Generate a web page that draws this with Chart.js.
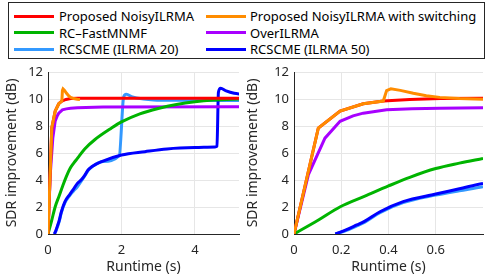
<!DOCTYPE html>
<html>
<head>
<meta charset="utf-8">
<script src="https://cdn.jsdelivr.net/npm/chart.js@4.4.0/dist/chart.umd.min.js"></script>
<style>
  body { margin: 0; background: #fff; }
  #wrap { position: relative; width: 491px; height: 278px; overflow: hidden; font-family: "Noto Sans", sans-serif; }
  canvas { position: absolute; top: 0; }
  #leftChart { left: 0; }
  #rightChart { left: 245px; }
  #legend { position: absolute; left: 8px; top: 2px; width: 477px; height: 57px; border: 1px solid #262626; background: #fff; box-sizing: border-box; }
  .item { position: absolute; font-size: 13px; line-height: 16px; color: #000; white-space: nowrap; }
  .swatch { position: absolute; width: 40px; height: 3px; }
</style>
</head>
<body>
<div id="wrap">
  <canvas id="leftChart" width="246" height="278"></canvas>
  <canvas id="rightChart" width="246" height="278"></canvas>
  <div id="legend"></div>
</div>
<script>
// Series: [runtime (s), SDR improvement (dB)]
const noisyIlrma = [[0, 0], [0.103, 7.85], [0.195, 9.1], [0.293, 9.65], [0.378, 9.85], [0.49, 9.97], [0.62, 10.03], [0.8, 10.06], [1.5, 10.06], [5.3, 10.06]];
const noisyIlrmaSwitch = [[0, 0], [0.103, 7.85], [0.195, 9.1], [0.293, 9.65], [0.378, 9.85], [0.392, 10.62], [0.41, 10.75], [0.45, 10.64], [0.505, 10.42], [0.56, 10.24], [0.617, 10.12], [0.7, 10.03], [0.8, 9.98], [0.87, 9.96]];
const rcFastMnmf = [[0, 0], [0.1, 1.0], [0.196, 2.02], [0.3, 2.8], [0.4, 3.56], [0.49, 4.2], [0.6, 4.85], [0.7, 5.25], [0.8, 5.6], [1.0, 6.3], [1.28, 7.0], [1.73, 7.85], [2.0, 8.3], [2.5, 8.9], [3.0, 9.3], [3.5, 9.6], [4.0, 9.8], [4.5, 9.92], [5.3, 10.0]];
const overIlrma = [[0, 0], [0.061, 4.4], [0.131, 7.1], [0.195, 8.35], [0.25, 8.75], [0.293, 8.95], [0.392, 9.2], [0.5, 9.27], [0.617, 9.32], [0.8, 9.35], [1.5, 9.4], [5.3, 9.43]];
const rcscme20 = [[0.175, 0], [0.22, 0.25], [0.266, 0.6], [0.3, 0.88], [0.364, 1.58], [0.462, 2.32], [0.6, 2.88], [0.7, 3.2], [0.8, 3.5], [0.9, 3.9], [1.0, 4.3], [1.09, 4.7], [1.2, 4.98], [1.46, 5.36], [1.94, 5.8], [2.06, 10.15], [2.13, 10.35], [2.3, 10.15], [2.6, 10.0], [2.88, 9.93], [3.5, 9.9], [5.3, 9.88]];
const rcscme50 = [[0.175, 0], [0.22, 0.3], [0.266, 0.67], [0.3, 0.95], [0.364, 1.65], [0.462, 2.4], [0.6, 2.96], [0.7, 3.35], [0.8, 3.75], [0.9, 4.0], [1.0, 4.35], [1.09, 4.74], [1.2, 5.0], [1.46, 5.36], [2.0, 5.85], [2.64, 6.1], [3.24, 6.3], [4.0, 6.4], [4.55, 6.45], [4.6, 6.5], [4.64, 10.5], [4.7, 10.8], [4.85, 10.6], [5.07, 10.42], [5.3, 10.35]];

const seriesNames = ["Proposed NoisyILRMA", "Proposed NoisyILRMA with switching", "RC\u2013FastMNMF", "OverILRMA", "RCSCME (ILRMA 20)", "RCSCME (ILRMA 50)"];
const seriesData = [noisyIlrma, noisyIlrmaSwitch, rcFastMnmf, overIlrma, rcscme20, rcscme50];
const seriesColors = ["#ff0000", "#ff8c00", "#00b400", "#a800ff", "#3399ff", "#0000ff"];
// drawing order, lower is on top
const seriesOrder = [2, 1, 3, 4, 6, 5];
const smoothSeries = [false, false, true, false, true, true];

const yTicks = [0, 2, 4, 6, 8, 10, 12];
const leftXTicks = [0, 2, 4];
const rightXTicks = [0, 0.2, 0.4, 0.6];

// Legend
var legendBox = document.getElementById("legend");
seriesNames.forEach((name, i) => {
  const col = i % 2, row = Math.floor(i / 2);
  const top = 5 + row * 16.5;
  legendBox.innerHTML += `
    <div class="swatch" style="left:${5 + col * 192}px;top:${top + 6.5}px;background:${seriesColors[i]}"></div>
    <div class="item" style="left:${50 + col * 191}px;top:${top}px">${name}</div>`;
});

function makeChart(id, xMax, xTicks, pad, yWidth, yTitlePad) {
  const ctx = document.getElementById(id).getContext("2d");
  return new Chart(ctx, {
    type: "line",
    data: {
      datasets: seriesData.map((pts, i) => ({
        label: seriesNames[i],
        data: pts.map(p => ({ x: p[0], y: p[1] })),
        borderColor: seriesColors[i],
        borderWidth: 3,
        pointRadius: 0,
        fill: false,
        order: seriesOrder[i],
        cubicInterpolationMode: smoothSeries[i] ? "monotone" : "default",
        tension: 0
      }))
    },
    options: {
      responsive: false,
      animation: false,
      devicePixelRatio: 1,
      layout: { padding: pad },
      plugins: { legend: { display: false }, tooltip: { enabled: false } },
      scales: {
        x: {
          type: "linear",
          min: 0,
          max: xMax,
          afterBuildTicks: axis => { axis.ticks = xTicks.map(v => ({ value: v })); },
          afterFit: axis => { axis.height = 44; },
          grid: { color: "#e6e6e6", drawTicks: false },
          border: { color: "#262626", width: 1 },
          ticks: { color: "#262626", padding: 8, maxRotation: 0, font: { family: "Noto Sans", size: 13 }, callback: v => String(v) },
          title: { display: true, text: "Runtime (s)", color: "#262626", padding: { top: 0, bottom: 3 }, font: { family: "Noto Sans", size: 14 } }
        },
        y: {
          min: 0,
          max: 12,
          afterBuildTicks: axis => { axis.ticks = yTicks.map(v => ({ value: v })); },
          afterFit: axis => { axis.width = yWidth; },
          grid: { color: "#e6e6e6", drawTicks: false },
          border: { color: "#262626", width: 1 },
          ticks: { color: "#262626", padding: 5, font: { family: "Noto Sans", size: 13 } },
          title: { display: true, text: "SDR improvement (dB)", color: "#262626", padding: { top: yTitlePad, bottom: 0 }, font: { family: "Noto Sans", size: 14 } }
        }
      }
    }
  });
}

makeChart("leftChart", 5.2, leftXTicks, { left: 0, right: 7, top: 72, bottom: 0 }, 48, 4);
makeChart("rightChart", 0.8, rightXTicks, { left: 0, right: 8, top: 72, bottom: 0 }, 49, 0);
</script>
</body>
</html>
